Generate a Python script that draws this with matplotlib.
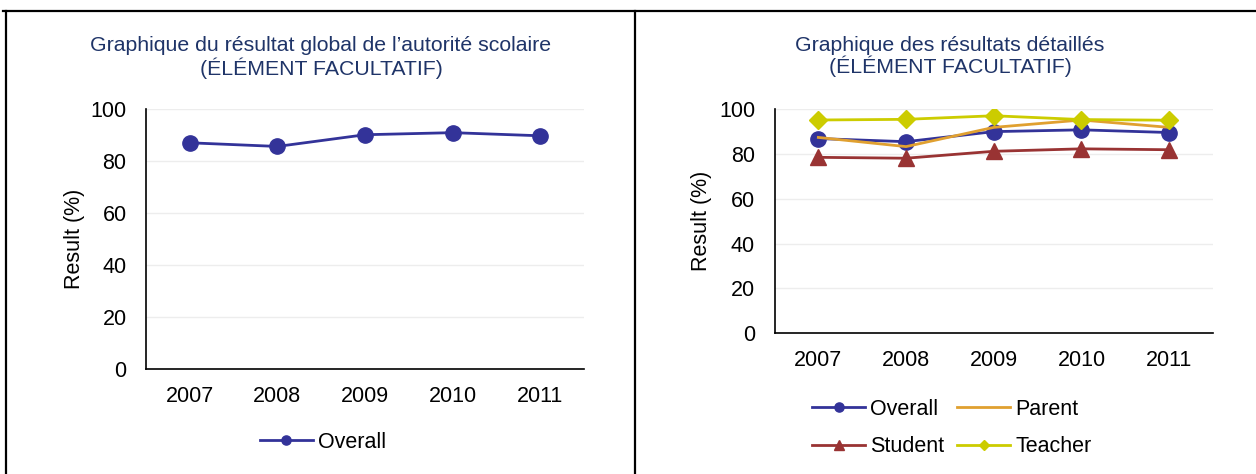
import matplotlib
matplotlib.use("Agg")
import matplotlib.pyplot as plt
from matplotlib.lines import Line2D

plt.rcParams['font.family'] = ['Liberation Sans', 'DejaVu Sans']

years = ['2007', '2008', '2009', '2010', '2011']
overall = [87.0, 85.6, 90.1, 90.9, 89.7]
parent = [87.5, 83.4, 92.0, 95.3, 92.0]
student = [78.6, 78.2, 81.3, 82.4, 82.0]
teacher = [95.3, 95.6, 97.2, 95.5, 95.2]
yticks = [0, 20, 40, 60, 80, 100]

left_title = "Graphique du résultat global de l\u2019autorité scolaire\n(ÉLÉMENT FACULTATIF)"
right_title = "Graphique des résultats détaillés\n(ÉLÉMENT FACULTATIF)"
ylabel = "Result (%)"

W, H = 1256, 474
fig = plt.figure(figsize=(W / 100, H / 100), dpi=100)

C_OVERALL = '#333399'
C_PARENT = '#E0A030'
C_STUDENT = '#993333'
C_TEACHER = '#CCCC00'
TITLE_C = '#1F3468'
FS = 15.5
TFS = 15.3

def px_axes(x0, x1, ytop, ybot):
    return fig.add_axes([x0 / W, 1 - ybot / H, (x1 - x0) / W, (ybot - ytop) / H])

def style(ax):
    ax.set_xlim(-0.5, len(years) - 0.5)
    ax.set_ylim(0, 100)
    ax.set_yticks(yticks)
    ax.set_xticks(range(len(years)))
    ax.set_xticklabels(years)
    for s in ['top', 'right']:
        ax.spines[s].set_visible(False)
    for s in ['left', 'bottom']:
        ax.spines[s].set_color('black')
        ax.spines[s].set_linewidth(1.2)
    ax.grid(axis='y', color='#EDEDED', linewidth=1)
    ax.set_axisbelow(True)
    ax.tick_params(axis='both', length=0, labelsize=FS)
    ax.tick_params(axis='y', pad=14)
    ax.tick_params(axis='x', pad=12)
    ax.set_ylabel(ylabel, fontsize=FS)

x = list(range(len(years)))

# Left chart
ax1 = px_axes(146, 584, 109, 369)
style(ax1)
ax1.plot(x, overall, color=C_OVERALL, lw=2, marker='o', ms=11, label='Overall')
ax1.yaxis.set_label_coords(-0.14, 0.5)
fig.text(321 / W, 1 - 57.5 / H, left_title, ha='center', va='center', color=TITLE_C,
         fontsize=TFS, linespacing=1.12)
fig.legend(handles=ax1.get_lines(), loc='center', bbox_to_anchor=(323 / W, 1 - 442 / H),
           frameon=False, fontsize=FS, handlelength=2.45, handletextpad=0.25, markerscale=0.6)

# Right chart
ax2 = px_axes(774.5, 1213, 109.5, 333)
style(ax2)
l1, = ax2.plot(x, overall, color=C_OVERALL, lw=2, marker='o', ms=11, label='Overall')
l2, = ax2.plot(x, parent, color=C_PARENT, lw=2, label='Parent')
l3, = ax2.plot(x, student, color=C_STUDENT, lw=2, marker='^', ms=12, label='Student')
l4, = ax2.plot(x, teacher, color=C_TEACHER, lw=2, marker='D', ms=9, label='Teacher')
ax2.yaxis.set_label_coords(-0.142, 0.5)
fig.text(950 / W, 1 - 56.5 / H, right_title, ha='center', va='center', color=TITLE_C,
         fontsize=TFS, linespacing=1.05)
fig.legend(handles=[l1, l3, l2, l4], loc='center', bbox_to_anchor=(952 / W, 1 - 428 / H),
           ncol=2, frameon=False, fontsize=FS, handlelength=2.45, handletextpad=0.25,
           markerscale=0.6, columnspacing=0.6, labelspacing=0.75)

# Table borders
lw = 1.6
fig.add_artist(Line2D([3 / W, 1], [1 - 11 / H, 1 - 11 / H], color='black', lw=lw,
                      transform=fig.transFigure))
fig.add_artist(Line2D([6 / W, 6 / W], [1 - 11 / H, 0], color='black', lw=lw,
                      transform=fig.transFigure))
fig.add_artist(Line2D([635 / W, 635 / W], [1 - 11 / H, 0], color='black', lw=lw,
                      transform=fig.transFigure))

fig.savefig('out.png', dpi=100)
